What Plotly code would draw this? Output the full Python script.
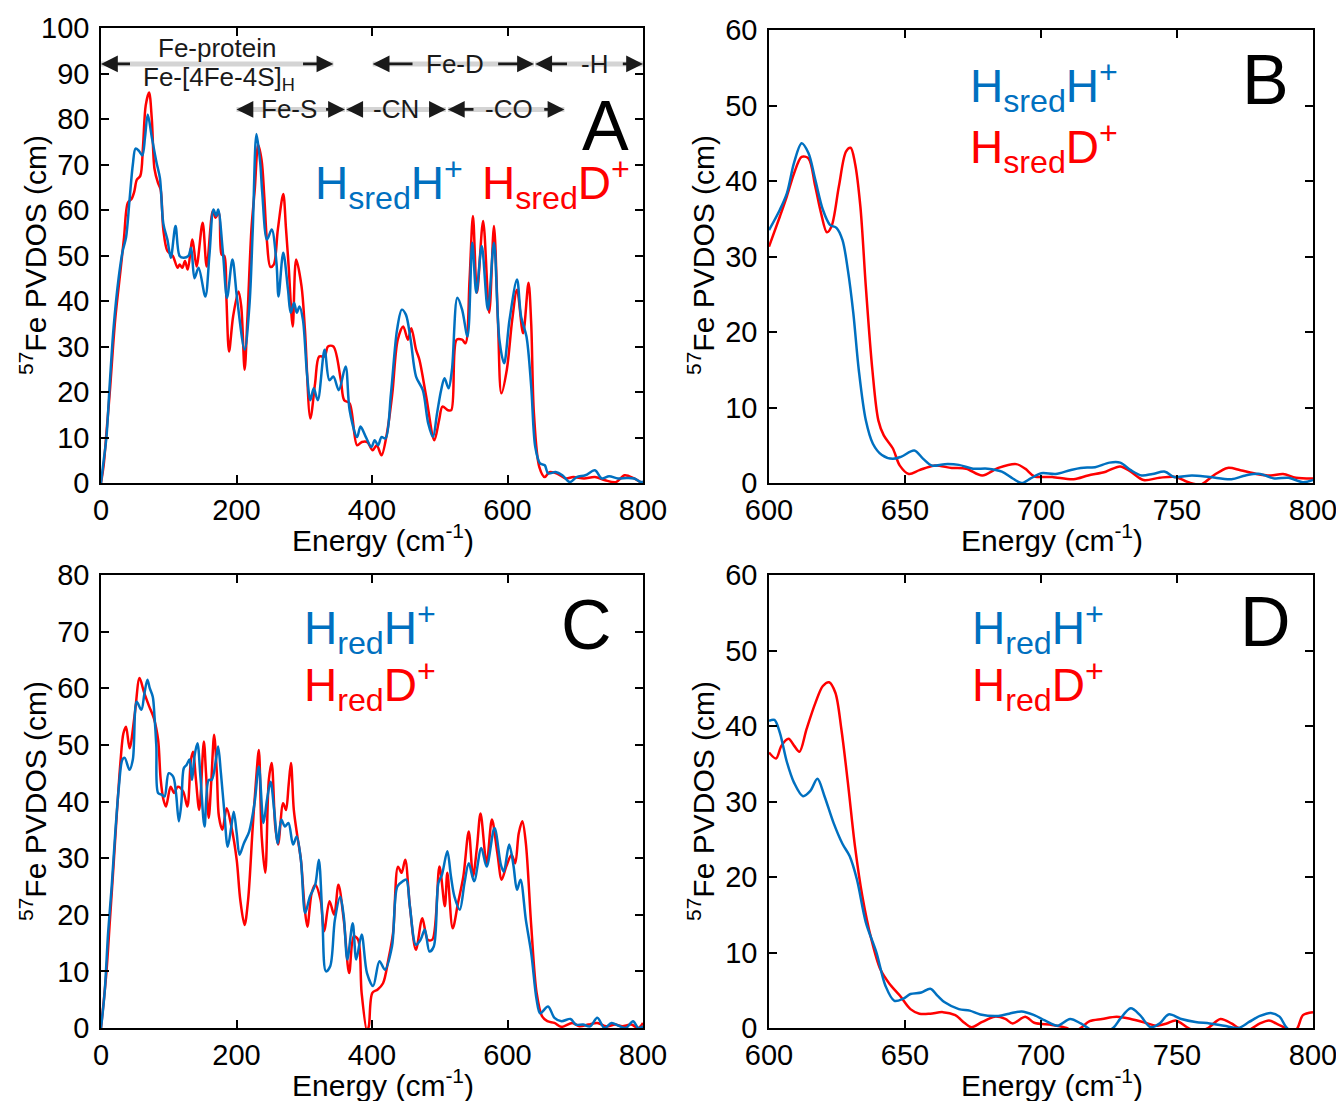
import plotly.graph_objects as go

W, H = 1344, 1101          # reference picture size
OFF = 8                    # page body margin of the html page
FW, FH = W - OFF, H - OFF
BLUE = "#0070C0"
RED = "#FF0000"
FONT = "Arial, Liberation Sans, sans-serif"

# ---------------- data (energy cm^-1, PVDOS cm) ----------------
a_blue = [(0,0),(4,5),(8,10),(13,22),(18.5,34),(26,45),(32,51),(37,54),(42,62),(47,70),(51,73.5),(56,73),
          (61,72),(65,76),(69,81),(75,76),(82,70.4),(87,67),(92,57),(98,53.5),(103,49.5),(110,56.5),
          (116,49.9),(122,49.5),(129,49.9),(133,51.7),(138,45),(144,47.3),(154,41),(160,50),(166,60.1),
          (170,58.7),(173,60.1),(180,50.6),(186,40.7),(194,49.1),(201,40.3),(212,29.3),(219,38.8),
          (224,55.7),(229.5,76.7),(235,70.4),(238,63.8),(245,53.5),(252,55.7),(259,48.4),(262,41),
          (269,50.6),(276,42.5),(280,37.4),(285,39.6),(289,37.4),(293,38.8),(298,35.9),(304,24.1),
          (309,18.2),(314,20.8),(320,18.2),(330,29.3),(337,22.6),(343,23.4),(351,20.4),(361,25.6),
          (367,16),(378,10.1),(383,12.4),(391,10.1),(399,7.9),(404,9.4),(409,8.3),(414,10.1),(420,9.8),
          (428,19.7),(437,33.7),(444,38.1),(450,37),(457,31.5),(465,23.4),(475,20.4),(483,13.1),
          (490,10.1),(496,15.3),(502,20.4),(507,23),(513,20.8),(518,24.9),(526,40.7),(533,38.1),
          (541,32.2),(548,52.8),(554,41.8),(562,52.1),(571,38.1),(580,52.8),(588,31.5),(595,26.3),
          (603,35.9),(614,44.7),(620,36.6),(628,32.2),(635,21.2),(641,7.9),(648,4.3),(655,3.9),
          (660,2.1),(671,2.4),(681,1.7),(692,0.2),(702,1.3),(715,1.7),(729,2.8),(739,1.0),(750,1.5),
          (763,1.0),(776,1.1),(787,1.0),(797,0.2),(800,0.3)]

a_red = [(0,0),(4,4),(8,11),(13,20),(21,36),(29,47),(34,54),(39.6,61.6),(45,62.4),(49,64),(53,66.7),
         (58,67.5),(62,74),(66,83),(71,85.8),(75,80),(79,69),(84,66),(88,64.5),(92,55.7),(98,51),
         (106,49.9),(113,47.3),(116,48),(120,47.3),(124,48.8),(128,46.9),(135,53.5),(141,47.6),
         (150,57.2),(156,47.6),(165,59.8),(169,58.3),(174,59.4),(178,50.2),(182,49.9),(185,41),
         (189,28.9),(195,36.6),(203,42.1),(207,38.8),(212,24.9),(216,35.9),(222,55.7),(227,64.6),
         (232,74.3),(237,71),(241,63),(245,53),(250,47.5),(255,48),(261,55.7),(269,63.5),(273,56),
         (277,47.6),(283,34.4),(288,49.1),(296,43.2),(301,33.7),(309,14.2),(316,21.9),(322,27.8),
         (330,27.8),(335,30),(343,30),(354,22.6),(359,18.2),(367,17.5),(378,8.3),(385,9),(393,9),
         (401,7.2),(407,8.3),(414,6.1),(422,10.9),(430,19.7),(438,31.5),(446,34.4),(453,31.5),
         (458,34),(465,29.3),(470,27.1),(480,19),(492,9.4),(499,13.8),(504,16.8),(512,16),(517,16),
         (525,31.5),(533,31.5),(538,30.7),(544,44.7),(549,58.7),(555,41.8),(564,57.6),(573,37.4),
         (580,56.5),(586,35.1),(591,19.7),(599,24.9),(607,35.9),(614,42.5),(623,32.9),(631,44),
         (635,35),(639,15.3),(647,3.5),(655,1.3),(662,2.4),(673,2.1),(686,1.0),(697,1.3),(713,1.0),
         (729,1.3),(744,0.6),(760,0.2),(773,1.7),(787,1),(797,0.2),(800,0.2)]

b_blue = [(600,33.5),(604,36.2),(606.6,38.4),(609.2,42.4),(612,45),(614.5,43.7),(617,40.2),(619.8,36.2),
          (622.4,34.2),(624.8,33.8),(627,32.2),(629,28.2),(631,22.5),(633,15),(635.6,8.3),(638.2,5.2),
          (641.5,3.7),(645.5,3.2),(648.7,3.5),(653.4,4.3),(656.7,3.2),(660,2.3),(664.6,2.5),(669.8,2.4),
          (675,1.9),(680.4,1.9),(685.6,1.5),(689.6,0.6),(692.9,0),(696.2,0.6),(700.1,1.3),(705.4,1.2),
          (710.7,1.7),(714.6,2),(719.9,2.1),(725.2,2.7),(729.1,2.7),(733,1.7),(737,1),(741,1.2),
          (745.6,1.5),(748.9,0.8),(755.5,1),(762,0.8),(770,0.5),(775.2,1),(780.5,1.2),(785.8,0.6),
          (791,0.7),(796.3,0.1),(800,0.4)]

b_red = [(600,31.3),(604,35.3),(606.6,38),(609.2,41),(612,43.2),(614.5,43),(617,39.3),(619.1,35.8),
         (621.3,33.2),(623,34),(625.7,39.3),(628.3,43.9),(630,44.4),(631.6,42.4),(633.6,36.6),(635.6,26),
         (638,15),(640.2,8.3),(642.2,6.3),(645.5,4.6),(648.1,2.3),(651.4,1.2),(655.3,1.7),(660.6,2.3),
         (667.2,2),(672.5,1.9),(678.4,1),(684.3,2),(690.9,2.5),(694.2,1.9),(697.5,0.9),(704.1,0.8),
         (712,0.5),(717.3,1),(723.8,1.5),(729.1,2.2),(733,1.5),(737.7,0.4),(743.6,0.7),(749.5,0.8),
         (754.2,0.1),(758.8,-0.2),(763.4,1),(768.6,2),(773.3,1.7),(779.2,1.2),(784.5,1),(789,1.2),
         (793.7,0.7),(800,0.6)]

c_blue = [(0,0),(5.3,6.2),(10.5,16.8),(15.8,25),(21,34.4),(26.4,42.6),(31.6,47.4),(35,47.7),(42,45.6),
          (47,47.4),(52.7,57.6),(59.6,56.2),(64,59),(68.5,61.5),(72,60),(76.4,58.5),(79,55),(81.7,49.7),
          (84.3,41.5),(89.6,41.2),(93.8,40.9),(100,45),(106.5,44.4),(110.7,41.5),(114.9,36.5),
          (118.6,39.7),(122.3,45.9),(126.5,46.5),(130.7,47.4),(134.4,43.8),(138,48),(142.3,50.3),
          (147,44),(152.8,35.6),(159,43.8),(163.4,43.8),(169.7,47.4),(172.9,49.7),(177,45),(181.8,38.5),
          (187,32),(192.4,35.6),(196,38.2),(200.3,34.4),(204.5,30.6),(210.8,32.6),(218.7,34.7),
          (226.6,39.7),(233,46.2),(239.8,36.2),(245,40.3),(250.3,43.5),(255.6,38.5),(260.9,32.6),
          (266.1,36.8),(271.4,35.6),(276.7,36.2),(283.5,32.4),(288.8,33.8),(295,29.7),(301.4,20.3),
          (308.3,23.2),(316.2,25.3),(321.5,29.7),(326.7,19.7),(332,10),(338.3,10.9),(345.2,19.1),
          (353.1,23.2),(358.3,19.7),(363.6,12.1),(371.5,18.5),(376.8,12.1),(384.7,16.5),(392.6,9.7),
          (401.6,7.4),(411,11.8),(419,10.3),(429.5,14.4),(437.4,25),(445.3,25.9),(450.6,26.2),
          (455.9,21.5),(464.8,14.7),(471.7,15.6),(478,17.4),(484.8,13.5),(491.2,14.4),(498,25.6),
          (503.3,27.1),(511.2,31.2),(516.5,26.8),(521.7,23.2),(529.6,20.9),(536.5,25.6),(542.8,29.1),
          (550.7,25.9),(561.3,31.8),(569.2,28.5),(580.8,35.3),(590.3,28.8),(594.5,27.6),(602.4,32.4),
          (608.7,28.8),(614,24.4),(619.2,26.2),(627.1,19.1),(635.1,13.2),(643,5),(648.2,2.6),
          (659.8,3.8),(669.3,1.8),(679.8,1.2),(693,1.6),(701,0.6),(711.5,0.6),(722,0.3),(732.6,1.8),
          (743,0),(753.6,0.9),(764.2,0.4),(774.7,0),(785.3,1.2),(793,0),(800,0.3)]

c_red = [(0,0),(7.9,9.7),(13.2,19.1),(18.4,28.5),(23.7,38.5),(29,47.4),(33,52),(36.9,53.2),(42.2,49.4),
         (50,55.6),(56.9,61.8),(63.2,59.4),(71.1,56.8),(78,54.7),(84.3,50.9),(88,44),(92.2,40.3),
         (95.9,39.1),(102.8,42.6),(108,41.5),(113.3,42.6),(121.2,41.8),(127.5,39.1),(132.8,47.4),
         (136,48.8),(140,44),(145,38.5),(151.8,50.6),(155,45),(159,37.1),(163,44),(167,51.8),(171,45),
         (174,37.4),(179.2,35),(185.5,38.8),(192.4,35.6),(200.3,29.7),(205.6,22.6),(211.9,18.2),
         (217.1,22.6),(224,35.6),(229,44),(233,49.1),(237.2,33.8),(242.5,27.4),(247.7,43.8),
         (251.9,46.8),(257.2,35.6),(261.4,32.4),(268.8,39.7),(273,38.5),(277,43),(280.4,46.8),
         (284.6,38.5),(289.9,33.8),(295.1,29.7),(300.4,21.5),(304.6,17.9),(310.9,23.8),(316.2,25.3),
         (324.1,22.6),(329.3,17.1),(337.3,22.4),(344.1,20),(350.5,25.3),(358.3,19.1),(366.3,9.7),
         (373.1,16.2),(379.4,15.6),(384.7,6.2),(392.6,-0.5),(395.3,0.3),(400.5,6.2),(408.4,6.8),
         (416.3,7.9),(424.2,12.1),(431.1,16.8),(438.4,28.5),(443.7,27.4),(449,29.7),(455.9,21.5),
         (464.8,13.8),(474.3,19.4),(482.2,15.6),(489,15.6),(499.6,28.5),(507.5,21.5),(511.2,27.4),
         (519.1,17.6),(527,22.1),(534.9,26.8),(542.8,34.7),(549.1,26.8),(555,32),(560.2,37.9),
         (569.2,29.1),(577,36.8),(585,30.9),(591.4,26.2),(598.1,28.5),(606,30.6),(611.3,29.1),
         (616.6,34.4),(621.9,36.5),(627.1,32.6),(635.1,17.9),(643,6.2),(650.9,2.1),(658.8,1.2),
         (669.3,0.9),(679.8,0.2),(695.7,0.9),(706.2,0.3),(719.4,0.6),(732.6,0.9),(745.7,0.3),
         (758.9,0.6),(769.4,0.3),(782.6,0.6),(793,0),(800,0.9)]

d_blue = [(600,40.7),(602,40.8),(604,39.1),(606.6,35.2),(609.2,32.5),(612.5,30.7),(615.2,31.4),
          (617.8,33),(620.4,30.7),(623.7,27.2),(627,24.4),(629.6,22.8),(632.3,19.7),(635.6,14),
          (639.5,10),(642.8,5.6),(646.1,3.6),(649.4,3.9),(652,4.5),(656,4.7),(659.3,5.2),(661.9,4.3),
          (664.6,3.4),(669.8,2.5),(673.8,2.3),(677.7,1.8),(684.3,1.6),(688.3,1.9),(692.9,2.2),
          (697.5,1.7),(701.4,1),(706.1,0.3),(710.7,1.2),(714.6,0.6),(717.3,0),(721,-0.8),(726.5,0),
          (729.1,1.2),(733,2.6),(736.4,1.7),(740.3,0.1),(743.6,0.6),(746.9,1.8),(751.6,1.2),
          (756.8,0.8),(762,0.6),(767.3,0.3),(772.6,0),(776.5,0.8),(780.5,1.6),(784.5,2),(787.7,1.5),
          (790.4,0),(795,-1),(800,-0.5)]

d_red = [(600,36.5),(602.6,35.7),(604.6,37.4),(607.2,38.3),(609.2,37.4),(611.2,36.6),(613.8,39.6),
         (617.1,43.1),(619.8,45.3),(622.1,45.8),(624.4,44.4),(626.6,39.6),(629,32.5),(631.6,24.1),
         (634.3,17.5),(637.6,11.8),(640.9,7.8),(644.2,5.9),(648.1,4.3),(652,2.5),(655.3,1.9),
         (659.3,1.9),(663.9,2.1),(668.5,1.7),(671.8,0.7),(674.4,0.1),(678.4,0.8),(683,1.5),(686.9,1.2),
         (689.6,0.6),(694.2,1.5),(697.5,0.7),(704.1,0.4),(709.4,0),(712,-0.5),(714.6,0),(717.9,0.9),
         (722.5,1.2),(727.8,1.5),(733,1.2),(738.3,0.7),(742.3,0.3),(746.2,0.6),(749.5,1),(754.2,0),
         (757.5,-0.5),(761.4,0),(766,1.2),(770,0.6),(772.6,0),(776,-0.3),(780.5,0.6),(783.8,1),
         (786.4,0.6),(789.7,0),(792,-0.7),(794.3,0),(796.3,1.7),(800,2.1)]

# tick values
full_xticks = [0, 200, 400, 600, 800]
zoom_xticks = [600, 650, 700, 750, 800]
a_yticks = list(range(0, 101, 10))
b_yticks = list(range(0, 61, 10))
c_yticks = list(range(0, 81, 10))
d_yticks = list(range(0, 61, 10))

# band labels of panel A: (text, left end, right end, left arrow stop, right arrow start, y)
bands = [
    ("Fe-D", 401, 639, 462, 584, 92.1),
    ("-H", 641, 800, 690, 768, 92.1),
    ("Fe-S", 200, 360, 226, 330, 82.1),
    ("-CN", 362, 509, 388, 482, 82.1),
    ("-CO", 512, 684, 552, 652, 82.1),
]
protein_band = ("Fe-protein", 0, 343, 45, 296, 92.1)

# ---------------- figure ----------------
def unzip(pairs):
    return [p[0] for p in pairs], [p[1] for p in pairs]

def px_x(p):
    return (p - OFF) / FW

def px_y(p):
    return 1 - (p - OFF) / FH

fig = go.Figure()
panels = [("x", "y", a_blue, a_red), ("x2", "y2", b_blue, b_red),
          ("x3", "y3", c_blue, c_red), ("x4", "y4", d_blue, d_red)]
for xa, ya, blue, red in panels:
    for pairs, col in ((red, RED), (blue, BLUE)):
        xs, ys = unzip(pairs)
        fig.add_trace(go.Scatter(x=xs, y=ys, xaxis=xa, yaxis=ya, mode="lines",
                                 line=dict(color=col, width=2.5, shape="spline", smoothing=0.9),
                                 showlegend=False, hoverinfo="skip"))

common = dict(showline=True, linecolor="black", linewidth=1.5, mirror="ticks", ticks="inside",
              ticklen=8, tickwidth=1.5, tickcolor="black", showgrid=False, zeroline=False,
              automargin=False, tickfont=dict(family=FONT, size=29, color="black"))

L1, R1 = px_x(101), px_x(643)
L2, R2 = px_x(769), px_x(1313)
TOPROW = [px_y(483), px_y(28)]
TOPROW_B = [px_y(483), px_y(30)]
BOTROW = [px_y(1028), px_y(575)]

XSTAND, YSTAND = 0, 4
fig.update_layout(
    width=FW, height=FH, margin=dict(l=0, r=0, t=0, b=0, pad=0, autoexpand=False),
    paper_bgcolor="white", plot_bgcolor="white",
    xaxis=dict(domain=[L1, R1], range=[0, 800], tickvals=full_xticks, anchor="y", ticklabelstandoff=XSTAND, **common),
    yaxis=dict(domain=TOPROW, range=[0, 100], tickvals=a_yticks, anchor="x", ticklabelstandoff=YSTAND, **common),
    xaxis2=dict(domain=[L2, R2], range=[600, 800], tickvals=zoom_xticks, anchor="y2", ticklabelstandoff=XSTAND, **common),
    yaxis2=dict(domain=TOPROW_B, range=[0, 60], tickvals=b_yticks, anchor="x2", ticklabelstandoff=YSTAND, **common),
    xaxis3=dict(domain=[L1, R1], range=[0, 800], tickvals=full_xticks, anchor="y3", ticklabelstandoff=XSTAND, **common),
    yaxis3=dict(domain=BOTROW, range=[0, 80], tickvals=c_yticks, anchor="x3", ticklabelstandoff=YSTAND, **common),
    xaxis4=dict(domain=[L2, R2], range=[600, 800], tickvals=zoom_xticks, anchor="y4", ticklabelstandoff=XSTAND, **common),
    yaxis4=dict(domain=BOTROW, range=[0, 60], tickvals=d_yticks, anchor="x4", ticklabelstandoff=YSTAND, **common),
)

ann = []
shapes = []

def text_ann(text, x, y, size, color="black", xanchor="center", yanchor="middle", angle=0):
    ann.append(dict(text=text, x=x, y=y, xref="paper", yref="paper", showarrow=False,
                    xanchor=xanchor, yanchor=yanchor, textangle=angle,
                    font=dict(family=FONT, size=size, color=color)))

# axis titles
ytitle = "<sup>57</sup>Fe PVDOS (cm)"
xtitle = "Energy (cm<sup>-1</sup>)"
for cx in (33, 701):
    text_ann(ytitle, px_x(cx), px_y(255), 30, angle=-90)
    text_ann(ytitle, px_x(cx), px_y(801), 30, angle=-90)
for cx in (383, 1052):
    text_ann(xtitle, px_x(cx), px_y(538), 30)
    text_ann(xtitle, px_x(cx), px_y(1083), 30)

# panel letters
for letter, cx, cy in (("A", 605, 126), ("B", 1265, 80), ("C", 586, 625), ("D", 1265, 622)):
    text_ann(letter, px_x(cx), px_y(cy), 70)

# species labels
text_ann("H<sub>sred</sub>H<sup>+</sup>", px_x(313), px_y(183), 46, BLUE, xanchor="left")
text_ann("H<sub>sred</sub>D<sup>+</sup>", px_x(480), px_y(183), 46, RED, xanchor="left")
text_ann("H<sub>sred</sub>H<sup>+</sup>", px_x(968), px_y(86), 46, BLUE, xanchor="left")
text_ann("H<sub>sred</sub>D<sup>+</sup>", px_x(968), px_y(147), 46, RED, xanchor="left")
text_ann("H<sub>red</sub>H<sup>+</sup>", px_x(302), px_y(628), 46, BLUE, xanchor="left")
text_ann("H<sub>red</sub>D<sup>+</sup>", px_x(302), px_y(686), 46, RED, xanchor="left")
text_ann("H<sub>red</sub>H<sup>+</sup>", px_x(970), px_y(628), 46, BLUE, xanchor="left")
text_ann("H<sub>red</sub>D<sup>+</sup>", px_x(970), px_y(686), 46, RED, xanchor="left")

# band arrows in panel A
def band(left, right, lstop, rstart, y):
    shapes.append(dict(type="line", xref="x", yref="y", x0=left, x1=right, y0=y, y1=y,
                       line=dict(color="#d4d4d4", width=5), layer="below"))
    for head, tail in ((left, lstop), (right, rstart)):
        ann.append(dict(x=head, y=y, ax=tail, ay=y, xref="x", yref="y", axref="x", ayref="y",
                        text="", showarrow=True, arrowhead=2, arrowsize=1.2, arrowwidth=2.8,
                        arrowcolor="#1a1a1a", standoff=0, startstandoff=0))

for text, left, right, lstop, rstart, y in bands:
    band(left, right, lstop, rstart, y)
    ann.append(dict(text=text, x=(lstop + rstart) / 2, y=y, xref="x", yref="y", showarrow=False,
                    font=dict(family=FONT, size=26, color="#1a1a1a")))

ptext, pl, pr, pls, prs, py = protein_band
band(pl, pr, pls, prs, py)
ann.append(dict(text=ptext, x=172, y=95.6, xref="x", yref="y", showarrow=False,
                font=dict(family=FONT, size=26, color="#1a1a1a")))
ann.append(dict(text="Fe-[4Fe-4S]<sub>H</sub>", x=174, y=88.9, xref="x", yref="y", showarrow=False,
                font=dict(family=FONT, size=26, color="#1a1a1a")))

fig.update_layout(annotations=ann, shapes=shapes)
fig.write_html("out.html")
